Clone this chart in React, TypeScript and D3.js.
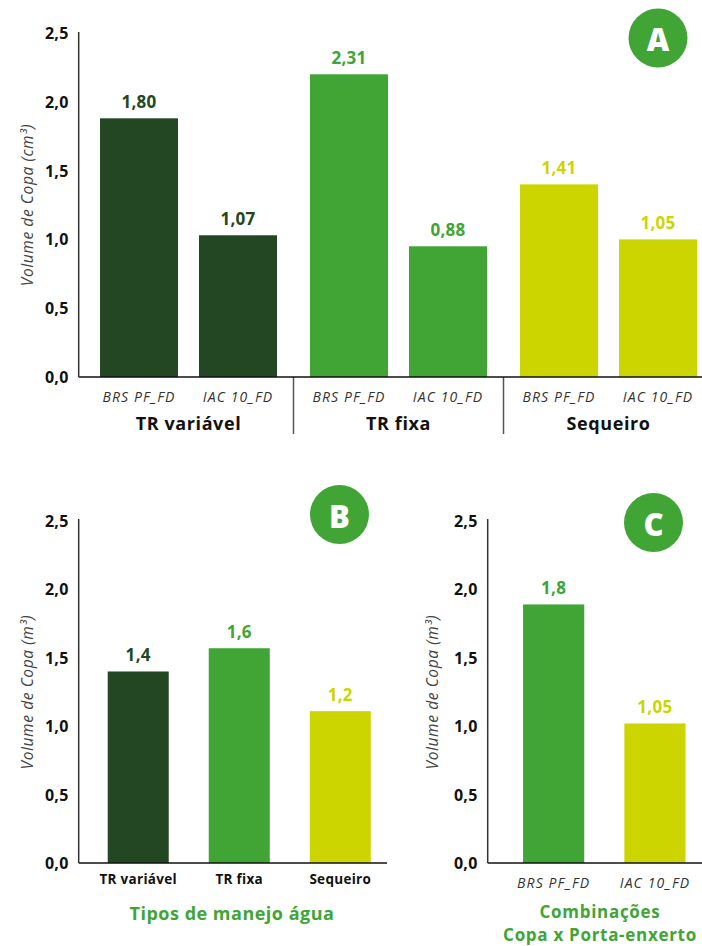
import React from "react";
import * as d3 from "d3";

const groupsA = ["TR variável", "TR fixa", "Sequeiro"];
const cultivars = ["BRS PF_FD", "IAC 10_FD"];
const valuesA = [
  [1.88, 1.03],
  [2.2, 0.95],
  [1.4, 1.0],
];
const labelsA = [
  ["1,80", "1,07"],
  ["2,31", "0,88"],
  ["1,41", "1,05"],
];
const categoriesB = ["TR variável", "TR fixa", "Sequeiro"];
const valuesB = [1.4, 1.57, 1.11];
const labelsB = ["1,4", "1,6", "1,2"];
const categoriesC = ["BRS PF_FD", "IAC 10_FD"];
const valuesC = [1.89, 1.02];
const labelsC = ["1,8", "1,05"];
const yTicks = [0, 0.5, 1, 1.5, 2, 2.5];

const DARK = "#234723";
const GREEN = "#40a535";
const YELLOW = "#cdd500";
const colorsA = [DARK, GREEN, YELLOW];
const colorsB = [DARK, GREEN, YELLOW];
const colorsC = [GREEN, YELLOW];

const FONT = "'Open Sans', 'Noto Sans', sans-serif";
const fmt = (d: number) => d.toFixed(1).replace(".", ",");

function YAxis({ x, y, top, title, titleX }: any) {
  const [y0] = y.range();
  const mid = (y(0) + y(2.5)) / 2;
  return (
    <g>
      <line x1={x} x2={x} y1={y0} y2={top} stroke="#333" strokeWidth={1.5} />
      {yTicks.map((t) => (
        <text
          key={t}
          x={x - 10}
          y={y(t)}
          textAnchor="end"
          dominantBaseline="central"
          fontFamily={FONT}
          fontWeight={700}
          fontSize={16}
          letterSpacing={0.3}
          fill="#111"
        >
          {fmt(t)}
        </text>
      ))}
      <text
        transform={`translate(${titleX},${mid}) rotate(-90)`}
        textAnchor="middle"
        dominantBaseline="central"
        fontFamily={FONT}
        fontStyle="italic"
        fontSize={15.5}
        letterSpacing={0.6}
        fill="#444"
      >
        {title}
      </text>
    </g>
  );
}

function Badge({ cx, cy, letter }: any) {
  return (
    <g>
      <circle cx={cx} cy={cy} r={29.5} fill={GREEN} />
      <text
        x={cx}
        y={cy + 1}
        textAnchor="middle"
        dominantBaseline="central"
        fontFamily={FONT}
        fontWeight={800}
        fontSize={31}
        fill="#fff"
      >
        {letter}
      </text>
    </g>
  );
}

function PanelA() {
  const y = d3.scaleLinear().domain([0, 2.5]).range([377, 33]);
  const gx = d3.scaleBand<string>().domain(groupsA).range([83.5, 713.5]).padding(0);
  const ix = d3
    .scaleBand<string>()
    .domain(cultivars)
    .range([0, gx.bandwidth()])
    .paddingInner(0.212)
    .paddingOuter(0.1667);
  return (
    <g>
      {groupsA.map((g, gi) => {
        const g0 = gx(g)!;
        return (
          <g key={g}>
            {cultivars.map((c, ci) => {
              const x = g0 + ix(c)!;
              const v = valuesA[gi][ci];
              return (
                <g key={c}>
                  <rect x={x} y={y(v)} width={ix.bandwidth()} height={y(0) - y(v)} fill={colorsA[gi]} />
                  <text
                    x={x + ix.bandwidth() / 2}
                    y={y(v) - 17}
                    textAnchor="middle"
                    dominantBaseline="central"
                    fontFamily={FONT}
                    fontWeight={700}
                    fontSize={17}
                    letterSpacing={0.3}
                    fill={colorsA[gi]}
                  >
                    {labelsA[gi][ci]}
                  </text>
                  <text
                    x={x + ix.bandwidth() / 2}
                    y={396}
                    textAnchor="middle"
                    dominantBaseline="central"
                    fontFamily={FONT}
                    fontStyle="italic"
                    fontSize={14}
                    letterSpacing={1.1}
                    fill="#333"
                  >
                    {c}
                  </text>
                </g>
              );
            })}
            <text
              x={g0 + gx.bandwidth() / 2}
              y={423}
              textAnchor="middle"
              dominantBaseline="central"
              fontFamily={FONT}
              fontWeight={700}
              fontSize={18}
              letterSpacing={0.6}
              fill="#111"
            >
              {g}
            </text>
            {gi > 0 && (
              <line x1={g0} x2={g0} y1={377} y2={434} stroke="#555" strokeWidth={1.5} />
            )}
          </g>
        );
      })}
      <line x1={78.7} x2={702} y1={377} y2={377} stroke="#111" strokeWidth={1.5} />
      <YAxis x={78.7} y={y} top={32} title="Volume  de Copa (cm³)" titleX={27} />
      <Badge cx={658} cy={38} letter="A" />
    </g>
  );
}

function PanelB() {
  const y = d3.scaleLinear().domain([0, 2.5]).range([863, 521]);
  const x = d3
    .scaleBand<string>()
    .domain(categoriesB)
    .range([87.5, 391])
    .paddingInner(0.396)
    .paddingOuter(0.2);
  return (
    <g>
      {categoriesB.map((c, i) => {
        const x0 = x(c)!;
        const v = valuesB[i];
        return (
          <g key={c}>
            <rect x={x0} y={y(v)} width={x.bandwidth()} height={y(0) - y(v)} fill={colorsB[i]} />
            <text
              x={x0 + x.bandwidth() / 2}
              y={y(v) - 17}
              textAnchor="middle"
              dominantBaseline="central"
              fontFamily={FONT}
              fontWeight={700}
              fontSize={17}
              letterSpacing={0.3}
              fill={colorsB[i]}
            >
              {labelsB[i]}
            </text>
            <text
              x={x0 + x.bandwidth() / 2}
              y={879}
              textAnchor="middle"
              dominantBaseline="central"
              fontFamily={FONT}
              fontWeight={700}
              fontSize={13.5}
              letterSpacing={0.3}
              fill="#111"
            >
              {c}
            </text>
          </g>
        );
      })}
      <line x1={78.7} x2={387} y1={863} y2={863} stroke="#111" strokeWidth={1.5} />
      <YAxis x={78.7} y={y} top={519} title="Volume de Copa (m³)" titleX={27} />
      <text
        x={232}
        y={913}
        textAnchor="middle"
        dominantBaseline="central"
        fontFamily={FONT}
        fontWeight={700}
        fontSize={18}
        letterSpacing={0.5}
        fill={GREEN}
      >
        Tipos de manejo água
      </text>
      <Badge cx={339.5} cy={514.5} letter="B" />
    </g>
  );
}

function PanelC() {
  const y = d3.scaleLinear().domain([0, 2.5]).range([863, 521]);
  const x = d3
    .scaleBand<string>()
    .domain(categoriesC)
    .range([502.8, 705.8])
    .paddingInner(0.396)
    .paddingOuter(0.2);
  return (
    <g>
      {categoriesC.map((c, i) => {
        const x0 = x(c)!;
        const v = valuesC[i];
        return (
          <g key={c}>
            <rect x={x0} y={y(v)} width={x.bandwidth()} height={y(0) - y(v)} fill={colorsC[i]} />
            <text
              x={x0 + x.bandwidth() / 2}
              y={y(v) - 17}
              textAnchor="middle"
              dominantBaseline="central"
              fontFamily={FONT}
              fontWeight={700}
              fontSize={17}
              letterSpacing={0.3}
              fill={colorsC[i]}
            >
              {labelsC[i]}
            </text>
            <text
              x={x0 + x.bandwidth() / 2}
              y={882}
              textAnchor="middle"
              dominantBaseline="central"
              fontFamily={FONT}
              fontStyle="italic"
              fontSize={14}
              letterSpacing={1.1}
              fill="#333"
            >
              {c}
            </text>
          </g>
        );
      })}
      <line x1={487.7} x2={702} y1={863} y2={863} stroke="#111" strokeWidth={1.5} />
      <YAxis x={487.7} y={y} top={519} title="Volume de Copa (m³)" titleX={432} />
      <text
        x={600}
        y={911}
        textAnchor="middle"
        dominantBaseline="central"
        fontFamily={FONT}
        fontWeight={700}
        fontSize={17}
        letterSpacing={0.7}
        fill={GREEN}
      >
        Combinações
      </text>
      <text
        x={600}
        y={934}
        textAnchor="middle"
        dominantBaseline="central"
        fontFamily={FONT}
        fontWeight={700}
        fontSize={17}
        letterSpacing={0.7}
        fill={GREEN}
      >
        Copa x Porta-enxerto
      </text>
      <Badge cx={653.5} cy={522.5} letter="C" />
    </g>
  );
}

export default function App() {
  return (
    <svg
      width={702}
      height={946}
      style={{ position: "absolute", left: 0, top: 0, background: "#fff" }}
    >
      <rect width={702} height={946} fill="#fff" />
      <PanelA />
      <PanelB />
      <PanelC />
    </svg>
  );
}
